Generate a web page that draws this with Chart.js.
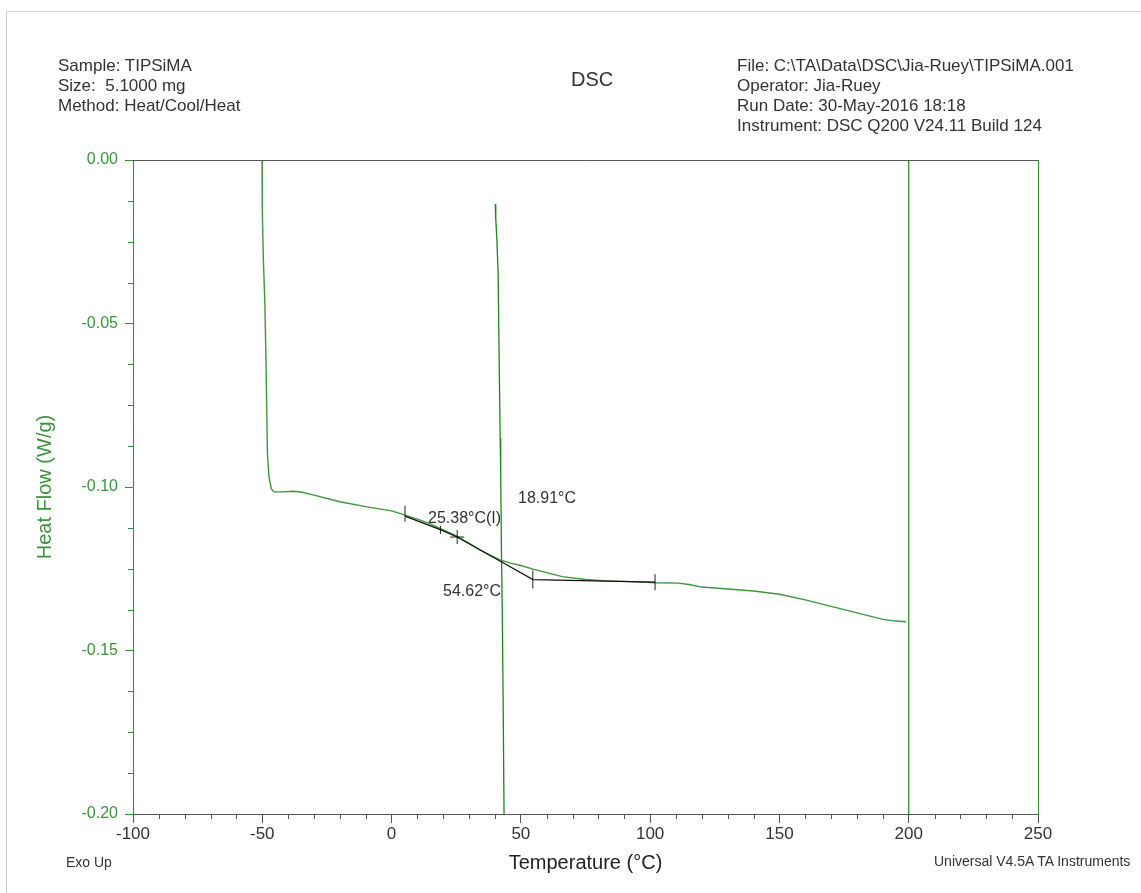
<!DOCTYPE html>
<html>
<head>
<meta charset="utf-8">
<script src="https://cdn.jsdelivr.net/npm/chart.js@4.4.1/dist/chart.umd.min.js"></script>
<style>
  html, body { margin: 0; padding: 0; background: #fff; overflow: hidden; }
  body { width: 1141px; height: 893px; position: relative; font-family: "Liberation Sans", Arial, sans-serif; color: #333; }
  #frame { position: absolute; left: 6px; top: 11px; width: 1300px; height: 1000px; border: 1px solid #cfcfcf; }
  canvas { position: absolute; left: 0; top: 0; }
  .txt { position: absolute; font-size: 17px; line-height: 20px; white-space: pre; color: #333; }
</style>
</head>
<body>
<div id="frame"></div>
<canvas id="myChart" width="1141" height="893"></canvas>
<div class="txt" style="left:58px; top:56px;">Sample: TIPSiMA
Size:  5.1000 mg
Method: Heat/Cool/Heat</div>
<div class="txt" style="left:571px; top:67px; font-size:20px; line-height:24px;">DSC</div>
<div class="txt" style="left:737px; top:56px;">File: C:\TA\Data\DSC\Jia-Ruey\TIPSiMA.001
Operator: Jia-Ruey
Run Date: 30-May-2016 18:18
Instrument: DSC Q200 V24.11 Build 124</div>
<div class="txt" style="left:66px; top:852px; font-size:14px;">Exo Up</div>
<div class="txt" style="left:934px; top:851px; font-size:14px;">Universal V4.5A TA Instruments</div>

<script>
// heating run (temperature °C, heat flow W/g)
var heatT  = [-50.1, -50.0, -49.6, -49.0, -48.6, -48.3, -48.0, -47.4, -46.5, -45.5, -42, -38, -34.5, -30, -20, -10, 0, 5, 10, 15, 19.1, 25.3, 30, 35, 42, 46, 50, 55, 60, 66, 75, 83, 95, 102, 111, 115, 120, 130, 140, 150, 160, 170, 180, 190, 195, 199];
var heatHF = [0.002, -0.015, -0.030, -0.044, -0.060, -0.075, -0.090, -0.097, -0.1005, -0.1015, -0.1015, -0.1013, -0.1016, -0.1025, -0.1045, -0.106, -0.1073, -0.1085, -0.1098, -0.1113, -0.1128, -0.1150, -0.1172, -0.1196, -0.1223, -0.1233, -0.1240, -0.1252, -0.1262, -0.1274, -0.1283, -0.1287, -0.1290, -0.1293, -0.1294, -0.1298, -0.1306, -0.1312, -0.1318, -0.1328, -0.1345, -0.1365, -0.1385, -0.1405, -0.1410, -0.1412];

// cooling run crossing the plot
var coolT  = [40.1, 40.3, 40.7, 41.2, 41.6, 42.0, 42.2, 42.5, 42.8, 43.2, 43.5, 43.6];
var coolHF = [-0.0135, -0.018, -0.024, -0.034, -0.060, -0.085, -0.095, -0.120, -0.137, -0.170, -0.200, -0.210];

// isothermal jump at the end of heating
var isoT  = [200, 200];
var isoHF = [0.005, -0.205];

// glass transition analysis line
var tgT  = [5.2, 19.1, 25.3, 41.9, 54.7, 101.9];
var tgHF = [-0.1089, -0.1131, -0.1153, -0.1226, -0.1283, -0.1291];

// analysis markers
var markT  = [5.2, 18.91, 25.38, 54.62, 101.9];
var markHF = [-0.1082, -0.1131, -0.1153, -0.1283, -0.1291];

// annotation labels
var annoText = ['25.38°C(I)', '18.91°C', '54.62°C'];
var annoT    = [14.1, 48.9, 19.9];
var annoHF   = [-0.1110, -0.1049, -0.1333];

var xTicks = [-100, -50, 0, 50, 100, 150, 200, 250];
var yTicks = [0, -0.05, -0.10, -0.15, -0.20];

function pts(xs, ys) {
  return xs.map(function (x, i) { return {x: x, y: ys[i]}; });
}

var GREEN = '#2f8f2f';
var GREEN_TXT = '#3d923d';
var DARK = '#555';

var extras = {
  id: 'extras',
  afterDraw: function (chart) {
    var ctx = chart.ctx, a = chart.chartArea;
    var xs = chart.scales.x, ys = chart.scales.y;
    ctx.save();
    // top and right frame of the plot
    ctx.lineWidth = 1;
    ctx.strokeStyle = DARK;
    ctx.beginPath(); ctx.moveTo(a.left, a.top + 0.5); ctx.lineTo(a.right, a.top + 0.5); ctx.stroke();
    ctx.strokeStyle = GREEN;
    ctx.beginPath(); ctx.moveTo(a.right + 0.5, a.top); ctx.lineTo(a.right + 0.5, a.bottom); ctx.stroke();
    // minor ticks
    ctx.strokeStyle = DARK;
    for (var t = -100; t <= 250; t += 10) {
      if (t % 50 === 0) continue;
      var px = Math.round(xs.getPixelForValue(t)) + 0.5;
      ctx.beginPath(); ctx.moveTo(px, a.bottom); ctx.lineTo(px, a.bottom + 5); ctx.stroke();
    }
    ctx.strokeStyle = GREEN;
    for (var k = 0; k <= 16; k++) {
      if (k % 4 === 0) continue;
      var py = Math.round(ys.getPixelForValue(-0.0125 * k)) + 0.5;
      ctx.beginPath(); ctx.moveTo(a.left, py); ctx.lineTo(a.left - 5, py); ctx.stroke();
    }
    // annotation labels
    ctx.fillStyle = '#333';
    ctx.font = '16px "Liberation Sans", Arial, sans-serif';
    ctx.textAlign = 'left';
    ctx.textBaseline = 'alphabetic';
    for (var i = 0; i < annoText.length; i++) {
      ctx.fillText(annoText[i], xs.getPixelForValue(annoT[i]), ys.getPixelForValue(annoHF[i]));
    }
    ctx.restore();
  }
};

var canvas = document.getElementById('myChart').getContext('2d');

var data = {
  datasets: [{
    label: 'Tg analysis',
    data: pts(tgT, tgHF),
    showLine: true,
    borderColor: '#111',
    borderWidth: 1.2,
    pointRadius: 0,
    order: 0
  }, {
    label: 'markers',
    data: pts(markT, markHF),
    showLine: false,
    borderColor: '#222',
    borderWidth: 1,
    pointStyle: ['line', 'line', 'cross', 'line', 'line'],
    rotation: [90, 90, 0, 90, 90],
    pointRadius: [8, 4, 7, 9, 8],
    order: 0
  }, {
    label: 'Heat',
    data: pts(heatT, heatHF),
    showLine: true,
    borderColor: '#3f963f',
    borderWidth: 1.4,
    pointRadius: 0,
    order: 1
  }, {
    label: 'Cool',
    data: pts(coolT, coolHF),
    showLine: true,
    borderColor: '#1c861c',
    borderWidth: 1.3,
    pointRadius: 0,
    order: 1
  }, {
    label: 'Iso',
    data: pts(isoT, isoHF),
    showLine: true,
    borderColor: '#3f963f',
    borderWidth: 1.4,
    pointRadius: 0,
    order: 1
  }]
};

var option = {
  responsive: false,
  animation: false,
  devicePixelRatio: 1,
  layout: { padding: { top: 160, right: 103, bottom: 0, left: 0 } },
  plugins: { legend: { display: false }, tooltip: { enabled: false }, title: { display: false } },
  scales: {
    x: {
      type: 'linear',
      min: -100, max: 250,
      afterBuildTicks: function (s) { s.ticks = xTicks.map(function (v) { return {value: v}; }); },
      afterFit: function (s) { s.height = 79; },
      ticks: { color: '#333', padding: 1, maxRotation: 0, font: { family: 'Liberation Sans', size: 17 } },
      grid: { drawOnChartArea: false, drawTicks: true, tickLength: 9, tickColor: DARK },
      border: { display: true, color: DARK, width: 1 },
      title: { display: true, text: 'Temperature (°C)', color: '#222', padding: { top: 0, bottom: 18 }, font: { family: 'Liberation Sans', size: 20 } }
    },
    y: {
      type: 'linear',
      min: -0.2, max: 0,
      afterBuildTicks: function (s) { s.ticks = yTicks.map(function (v) { return {value: v}; }); },
      afterFit: function (s) { s.width = 133; },
      ticks: { color: GREEN_TXT, padding: 7, callback: function (v) { return v.toFixed(2); }, font: { family: 'Liberation Sans', size: 16 } },
      grid: { drawOnChartArea: false, drawTicks: true, tickLength: 8, tickColor: GREEN },
      border: { display: true, color: GREEN, width: 1 },
      title: { display: true, text: 'Heat Flow (W/g)', color: GREEN_TXT, padding: { top: 33, bottom: 0 }, font: { family: 'Liberation Sans', size: 20 } }
    }
  }
};

var myLineChart = new Chart(canvas, { type: 'scatter', data: data, options: option, plugins: [extras] });
</script>
</body>
</html>
